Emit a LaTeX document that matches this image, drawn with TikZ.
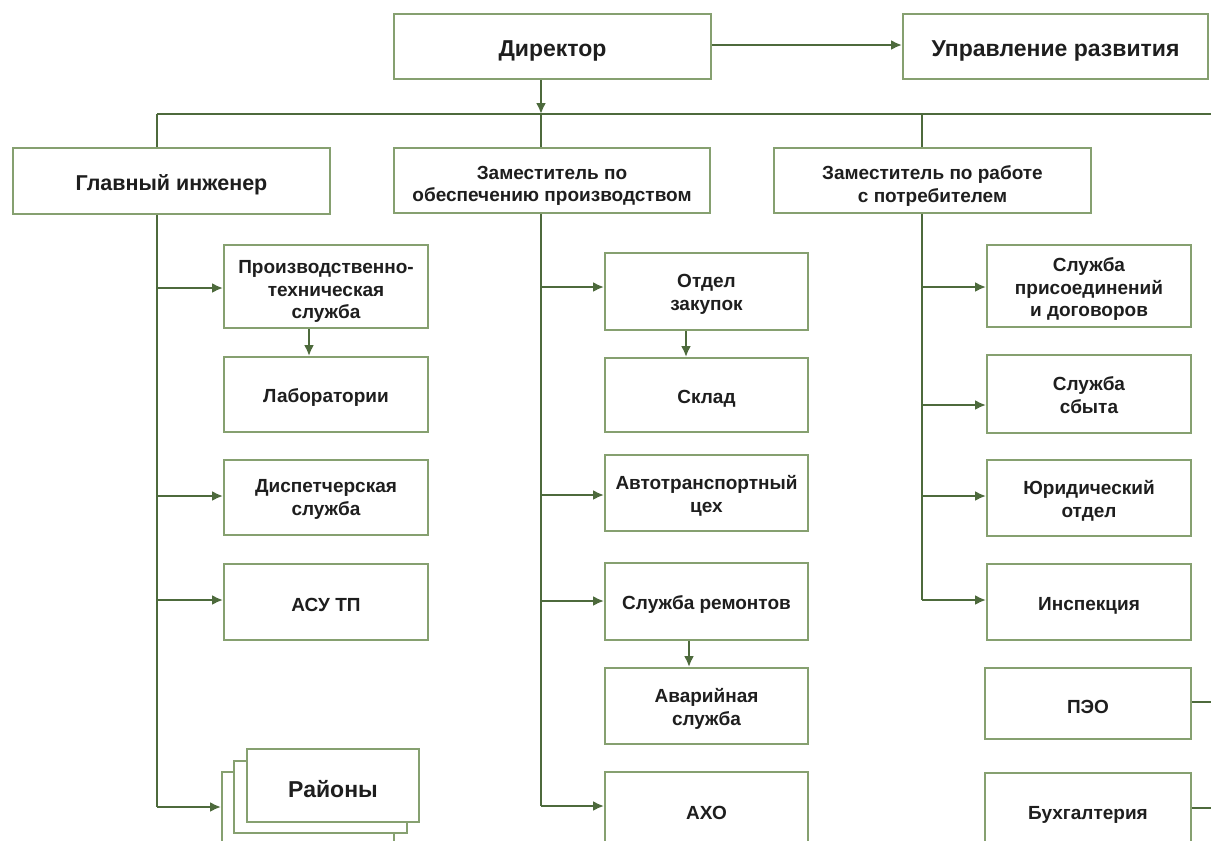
\documentclass[tikz,border=0pt]{standalone}
\usepackage{fontspec}
\setmainfont{Liberation Sans}
\usetikzlibrary{arrows.meta}
\definecolor{boxc}{HTML}{86A070}
\definecolor{linec}{HTML}{4D6A3C}
\definecolor{txt}{HTML}{1E1E1E}
\newcommand{\mltext}[3]{\raisebox{-#1}[\height][\depth]{\parbox{#2}{\centering #3}}}
\tikzset{
  orgbox/.style={draw=boxc, line width=1.9pt, fill=white, inner sep=0pt, align=center,
    text=txt, font=\bfseries\fontsize{19}{22.5}\selectfont,
    execute at begin node={\rule{0pt}{1.05em}}},
  bigtxt/.style={font=\bfseries\fontsize{23}{27}\selectfont},
  midtxt/.style={font=\bfseries\fontsize{21.5}{25}\selectfont},
  conn/.style={draw=linec, line width=2.8pt},
  arr/.style={conn, -{Latex[length=11pt,width=10pt]}},
}
\begin{document}
\begin{tikzpicture}[x=1pt,y=-1pt]
\useasboundingbox (0,0) rectangle (1211,841);
\fill[white] (0,0) rectangle (1211,841);
% top
\node[orgbox,bigtxt,minimum width=317pt,minimum height=65pt] (dir) at (552.5,46.5) {Директор};
\node[orgbox,bigtxt,minimum width=305pt,minimum height=65pt] (upr) at (1055.5,46.5) {Управление развития};
% deputies
\node[orgbox,midtxt,minimum width=317pt,minimum height=66pt] (gi) at (171.5,181) {Главный инженер};
\node[orgbox,minimum width=316pt,minimum height=65pt] (z1) at (552,180.5) {\mltext{5.5pt}{300pt}{Заместитель по\\обеспечению производством}};
\node[orgbox,minimum width=317pt,minimum height=65pt] (z2) at (932.5,180.5) {\mltext{5.5pt}{300pt}{Заместитель по работе\\с потребителем}};
% left column
\node[orgbox,minimum width=204pt,minimum height=83pt] (pts) at (326,286.5) {\mltext{5pt}{198pt}{Производственно-\\техническая\\служба}};
\node[orgbox,minimum width=204pt,minimum height=75pt] (lab) at (326,394.5) {Лаборатории};
\node[orgbox,minimum width=204pt,minimum height=75pt] (disp) at (326,497.5) {\mltext{2pt}{198pt}{Диспетчерская\\служба}};
\node[orgbox,minimum width=204pt,minimum height=76pt] (asu) at (326,602) {АСУ ТП};
\node[orgbox,minimum width=172pt,minimum height=73pt] (r3) at (308,808.5) {};
\node[orgbox,minimum width=173pt,minimum height=72pt] (r2) at (320.5,797) {};
\node[orgbox,font=\bfseries\fontsize{23}{27}\selectfont,minimum width=172pt,minimum height=73pt] (r1) at (333,785.5) {Районы};
% middle column
\node[orgbox,minimum width=203pt,minimum height=77pt] (zak) at (706.5,291.5) {\mltext{3pt}{198pt}{Отдел\\закупок}};
\node[orgbox,minimum width=203pt,minimum height=74pt] (skl) at (706.5,395) {Склад};
\node[orgbox,minimum width=203pt,minimum height=76pt] (avto) at (706.5,493) {\mltext{3pt}{198pt}{Автотранспортный\\цех}};
\node[orgbox,minimum width=203pt,minimum height=77pt] (rem) at (706.5,601.5) {Служба ремонтов};
\node[orgbox,minimum width=203pt,minimum height=76pt] (avar) at (706.5,706) {\mltext{3pt}{198pt}{Аварийная\\служба}};
\node[orgbox,minimum width=203pt,minimum height=76pt] (axo) at (706.5,810) {АХО};
% right column
\node[orgbox,minimum width=204pt,minimum height=82pt] (pris) at (1089,286) {\mltext{3pt}{198pt}{Служба\\присоединений\\и договоров}};
\node[orgbox,minimum width=204pt,minimum height=78pt] (sbyt) at (1089,394) {\mltext{1pt}{198pt}{Служба\\сбыта}};
\node[orgbox,minimum width=204pt,minimum height=76pt] (yur) at (1089,498) {\mltext{3pt}{198pt}{Юридический\\отдел}};
\node[orgbox,minimum width=204pt,minimum height=76pt] (insp) at (1089,602) {Инспекция};
\node[orgbox,minimum width=206pt,minimum height=71pt] (peo) at (1088,703.5) {ПЭО};
\node[orgbox,minimum width=206pt,minimum height=76pt] (buh) at (1088,811) {Бухгалтерия};
% coordinates
\coordinate (busL) at (157,114);
\coordinate (busM) at (541,114);
\coordinate (busR) at (922,114);
\coordinate (busE) at (1211,114);
\coordinate (tL) at (157,807);
\coordinate (tM) at (541,806);
\coordinate (tR) at (922,600);
\coordinate (peoE) at (1211,702);
\coordinate (buhE) at (1211,808);
% connectors top
\draw[arr] (dir.east |- 0,45) -- (upr.west |- 0,45);
\draw[arr] (dir.south -| busM) -- (busM);
\draw[conn] (busL) -- (busE);
\draw[conn] (busL) -- (gi.north -| busL);
\draw[conn] (busM) -- (z1.north -| busM);
\draw[conn] (busR) -- (z2.north -| busR);
% left trunk
\draw[conn] (gi.south -| busL) -- (tL);
\draw[arr] (157,288) -- (pts.west |- 0,288);
\draw[arr] (157,496) -- (disp.west |- 0,496);
\draw[arr] (157,600) -- (asu.west |- 0,600);
\draw[arr] (tL) -- (r3.west |- tL);
\draw[arr] (pts.south -| 309,0) -- (lab.north -| 309,0);
% middle trunk
\draw[conn] (z1.south -| busM) -- (tM);
\draw[arr] (541,287) -- (zak.west |- 0,287);
\draw[arr] (541,495) -- (avto.west |- 0,495);
\draw[arr] (541,601) -- (rem.west |- 0,601);
\draw[arr] (tM) -- (axo.west |- tM);
\draw[arr] (zak.south -| 686,0) -- (skl.north -| 686,0);
\draw[arr] (rem.south -| 689,0) -- (avar.north -| 689,0);
% right trunk
\draw[conn] (z2.south -| busR) -- (tR);
\draw[arr] (922,287) -- (pris.west |- 0,287);
\draw[arr] (922,405) -- (sbyt.west |- 0,405);
\draw[arr] (922,496) -- (yur.west |- 0,496);
\draw[arr] (tR) -- (insp.west |- tR);
\draw[conn] (peo.east |- peoE) -- (peoE);
\draw[conn] (buh.east |- buhE) -- (buhE);
\end{tikzpicture}
\end{document}
